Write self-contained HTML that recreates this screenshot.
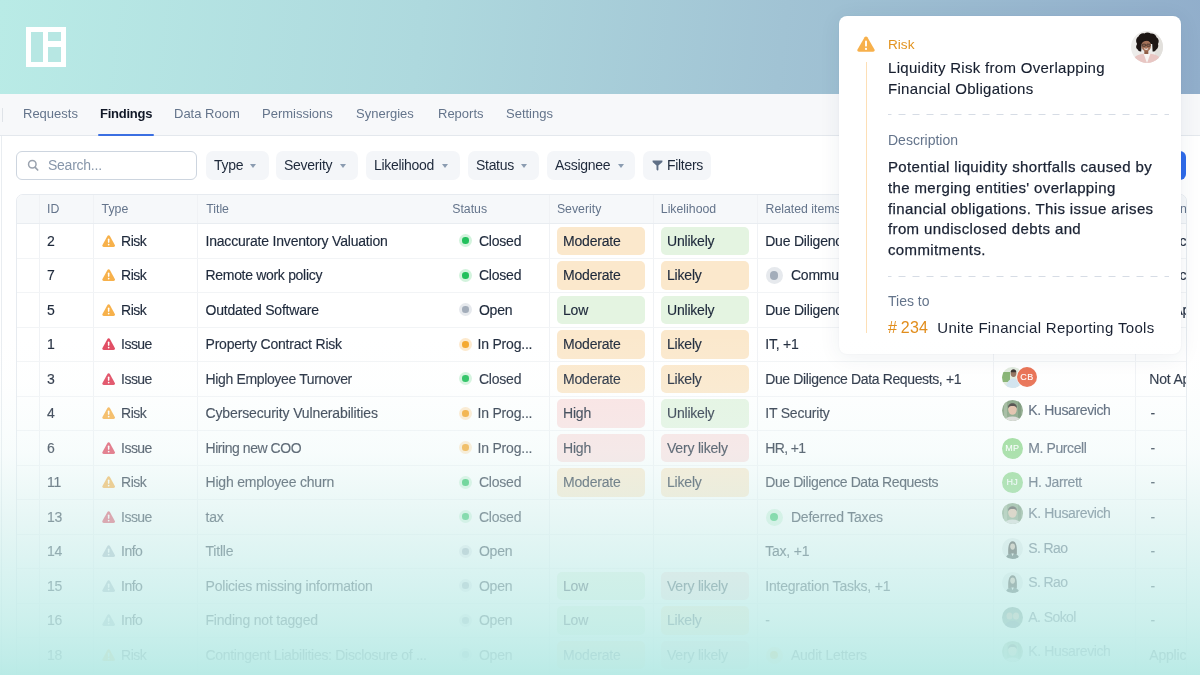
<!DOCTYPE html>
<html><head><meta charset="utf-8"><title>Findings</title>
<style>
*{box-sizing:border-box;margin:0;padding:0}
html,body{width:1200px;height:675px;overflow:hidden;background:#fff}
body{position:relative;font-family:"Liberation Sans",Arial,sans-serif;color:#1e293b;-webkit-font-smoothing:antialiased}
.abs{position:absolute}
#hdr{position:absolute;left:0;top:0;width:1200px;height:94px;background:linear-gradient(97deg,#b9ebe6 0%,#aed9de 35%,#a1c3d4 65%,#91aecb 100%)}
#logo{position:absolute;left:26px;top:27px;width:40px;height:40px;background:#fff}
#logo i{position:absolute;display:block;background:#b7e7e3}
#nav{position:absolute;left:0;top:94px;width:1200px;height:42px;background:#f7f8fa;border-bottom:1px solid #e4e8ed}
#nav .sep{position:absolute;left:2px;top:14px;width:1px;height:14px;background:#dfe3e8}
.tab{position:absolute;top:0;height:41px;line-height:40px;font-size:13px;color:#64748b;white-space:nowrap}
.tab.on{color:#111827;font-weight:700;letter-spacing:-.25px}
.tab.on:after{content:"";position:absolute;left:-2px;right:-2px;bottom:-1px;height:2px;background:#3b6fe2;border-radius:1px}
#main{position:absolute;left:0;top:136px;width:1200px;height:539px;background:#fff}
#main .lb{position:absolute;left:1px;top:0;width:1px;height:539px;background:#e9edf1}
#search{position:absolute;left:16px;top:151px;width:181px;height:29px;border:1px solid #cdd5df;border-radius:6px;background:#fff}
#search span{position:absolute;left:31px;top:0;line-height:26.5px;font-size:14px;letter-spacing:-.25px;color:#8796aa}
.fb{position:absolute;top:151px;height:29px;border-radius:7px;background:#f4f6f9;font-size:14px;letter-spacing:-.3px;line-height:28px;color:#1e293b;padding-left:8px;white-space:nowrap}
.fb .car{position:absolute;top:13px;width:0;height:0;border-left:3.5px solid transparent;border-right:3.5px solid transparent;border-top:4px solid #8b9cb1}
#blue{position:absolute;left:1080px;top:151px;width:106px;height:29px;border-radius:6px;background:#2f6bea}
#tbl{position:absolute;left:16px;top:194px;width:1170.5px;height:500px;border:1px solid #e7ebf0;border-radius:7px 7px 0 0;overflow:hidden;background:#fff}
.th{position:absolute;top:0;height:28px;line-height:28px;font-size:12.3px;color:#64748b;white-space:nowrap}
.vd{position:absolute;width:1px;background:#f0f2f5}
.hd{position:absolute;left:0;width:1170px;height:1px;background:#f2f4f6}
.c{position:absolute;height:34.5px;line-height:34.5px;font-size:14px;letter-spacing:-.2px;-webkit-text-stroke-width:.15px;white-space:nowrap;color:#1e293b}
.tri{position:absolute;left:8.6px;top:11.1px}
.bd{position:absolute;height:28.3px;line-height:28.3px;width:88px;border-radius:5px;padding-left:6px;font-size:14px;letter-spacing:-.2px;-webkit-text-stroke-width:.15px}
.pe{background:#fbe8cc}.gr{background:#e4f4e1}.pk{background:#fbe2e2}
.dot{position:absolute;width:13px;height:13px;border-radius:50%}
.dot:after{content:"";position:absolute;left:50%;top:50%;width:6.6px;height:6.6px;margin:-3.3px 0 0 -3.3px;border-radius:50%}
.dot.big:after{width:8.4px;height:8.4px;margin:-4.2px 0 0 -4.2px}
.sg{background:#d3f3dd}.sg:after{background:#22c05c}
.sy{background:#e6e9ed}.sy:after{background:#a3adba}
.so{background:#fde9cc}.so:after{background:#f4a62a}
.av{position:absolute}
.ini{position:absolute;width:21px;height:21px;border-radius:50%;color:#fff;font-size:9px;text-align:center;line-height:21px;letter-spacing:.3px;-webkit-text-stroke:.1px #fff}
#fade{position:absolute;left:0;top:339px;width:1200px;height:336px;background:linear-gradient(180deg,rgba(250,253,253,.025) 0px,rgba(245,251,250,.10) 43px,rgba(232,247,246,.33) 113px,rgba(213,240,238,.57) 179px,rgba(200,238,235,.76) 248px,rgba(195,237,233,.85) 283px,rgba(188,235,231,.935) 318px,rgba(183,234,229,.965) 336px)}
#card{position:absolute;left:839px;top:16px;width:342px;height:338px;background:#fff;border-radius:8px;box-shadow:0 3px 22px rgba(30,50,80,.07),0 0 2px rgba(30,50,80,.05)}
#card .t{position:absolute;left:49px;white-space:nowrap}
.dash{position:absolute;left:49px;width:281px;height:1px;background:repeating-linear-gradient(90deg,#d6dce5 0,#d6dce5 7.5px,transparent 7.5px,transparent 14px);background-position:-3.5px 0}
</style></head><body>
<div id="hdr"><div id="logo"><i style="left:5px;top:5px;width:12px;height:30px"></i><i style="left:22px;top:5px;width:12.8px;height:9.3px"></i><i style="left:22px;top:19.6px;width:12.8px;height:15.4px"></i></div></div>
<div id="nav"><div class="sep"></div>
<div class="tab" style="left:23px">Requests</div>
<div class="tab on" style="left:100px">Findings</div>
<div class="tab" style="left:174px">Data Room</div>
<div class="tab" style="left:262px">Permissions</div>
<div class="tab" style="left:356px">Synergies</div>
<div class="tab" style="left:438px">Reports</div>
<div class="tab" style="left:506px">Settings</div>
</div>
<div id="main"><div class="lb"></div></div>
<div id="search"><svg class="abs" style="left:10px;top:6.5px" width="13" height="13" viewBox="0 0 13 13"><circle cx="5.3" cy="5.3" r="3.75" fill="none" stroke="#9aa2ae" stroke-width="1.5"/><path d="M8.2 8.3l2.5 2.7" stroke="#9aa2ae" stroke-width="1.7" stroke-linecap="round"/></svg><span>Search...</span></div>

<div class="fb" style="left:206px;width:62.5px">Type<i class="car" style="left:44px"></i></div>
<div class="fb" style="left:276px;width:82px">Severity<i class="car" style="left:64px"></i></div>
<div class="fb" style="left:366px;width:94px">Likelihood<i class="car" style="left:76px"></i></div>
<div class="fb" style="left:468px;width:71px">Status<i class="car" style="left:53px"></i></div>
<div class="fb" style="left:547px;width:88px">Assignee<i class="car" style="left:70.5px"></i></div>
<div class="fb" style="left:643px;width:68px;padding-left:24px"><svg class="abs" style="left:9px;top:8.8px" width="11" height="11" viewBox="0 0 11 11"><path d="M0.6 0.6h9.8v1.3L6.4 5.6v4.2c0 .6-.6.9-1.1.6l-.4-.3c-.3-.2-.4-.5-.4-.8V5.6L0.6 1.9z" fill="#5f6f86"/></svg>Filters</div>
<div id="blue"></div>
<div id="tbl">
<div class="abs" style="left:0;top:0;width:1170px;height:28px;background:#f6f8fa"></div>
<div class="th" style="left:30.0px">ID</div>
<div class="th" style="left:84.6px">Type</div>
<div class="th" style="left:189.2px">Title</div>
<div class="th" style="left:435.2px">Status</div>
<div class="th" style="left:539.9px">Severity</div>
<div class="th" style="left:643.8px">Likelihood</div>
<div class="th" style="left:748.5px">Related items</div>
<div class="th" style="left:984.6px">Assignee</div>
<div class="th" style="left:1117.1px">Mitigation</div>
<div class="vd" style="left:22.1px;top:0;height:500px"></div>
<div class="vd" style="left:76.1px;top:0;height:500px"></div>
<div class="vd" style="left:180.1px;top:0;height:500px"></div>
<div class="vd" style="left:532.1px;top:0;height:500px"></div>
<div class="vd" style="left:636.1px;top:0;height:500px"></div>
<div class="vd" style="left:740.1px;top:0;height:500px"></div>
<div class="vd" style="left:976.1px;top:0;height:500px"></div>
<div class="vd" style="left:1117.8px;top:0;height:500px"></div>
<div class="hd" style="top:28.0px;background:#e9edf1"></div>
<div class="hd" style="top:62.60px"></div>
<div class="hd" style="top:97.10px"></div>
<div class="hd" style="top:131.60px"></div>
<div class="hd" style="top:166.10px"></div>
<div class="hd" style="top:200.60px"></div>
<div class="hd" style="top:235.10px"></div>
<div class="hd" style="top:269.60px"></div>
<div class="hd" style="top:304.10px"></div>
<div class="hd" style="top:338.60px"></div>
<div class="hd" style="top:373.10px"></div>
<div class="hd" style="top:407.60px"></div>
<div class="hd" style="top:442.10px"></div>
<div class="hd" style="top:476.60px"></div>
<div class="c" style="left:30.0px;top:28.75px">2</div>
<div class="c" style="left:76.1px;top:28.75px;width:100px"><svg class="tri" width="13.3" height="12.35" viewBox="0 0 14 13"><path d="M7 0.3c.55 0 1 .3 1.3.8l5.2 9.3c.55 1-.1 2.2-1.3 2.2H1.8C.6 12.6-.05 11.4.5 10.4l5.2-9.3C6 .6 6.45.3 7 .3z" fill="#f7b14b"/><rect x="6.2" y="3.7" width="1.6" height="4.6" rx=".8" fill="#fff"/><circle cx="7" cy="10.1" r=".9" fill="#fff"/></svg><span style="position:absolute;left:28px;letter-spacing:-.55px">Risk</span></div>
<div class="c" style="left:188.5px;top:28.75px">Inaccurate Inventory Valuation</div>
<div class="c" style="left:442.2px;top:28.75px;width:90px"><i class="dot sg" style="left:0;top:10.5px"></i><span style="position:absolute;left:19.7px">Closed</span></div>
<div class="bd pe" style="left:540.0px;top:31.95px">Moderate</div>
<div class="bd gr" style="left:644.0px;top:31.95px">Unlikely</div>
<div class="c" style="left:748.2px;top:28.75px;letter-spacing:-0.2px">Due Diligence Data Requests</div>
<div class="c" style="left:1132.3px;top:28.75px">Applicable</div>
<div class="c" style="left:30.0px;top:63.25px">7</div>
<div class="c" style="left:76.1px;top:63.25px;width:100px"><svg class="tri" width="13.3" height="12.35" viewBox="0 0 14 13"><path d="M7 0.3c.55 0 1 .3 1.3.8l5.2 9.3c.55 1-.1 2.2-1.3 2.2H1.8C.6 12.6-.05 11.4.5 10.4l5.2-9.3C6 .6 6.45.3 7 .3z" fill="#f7b14b"/><rect x="6.2" y="3.7" width="1.6" height="4.6" rx=".8" fill="#fff"/><circle cx="7" cy="10.1" r=".9" fill="#fff"/></svg><span style="position:absolute;left:28px;letter-spacing:-.55px">Risk</span></div>
<div class="c" style="left:188.5px;top:63.25px;letter-spacing:-0.31px">Remote work policy</div>
<div class="c" style="left:442.2px;top:63.25px;width:90px"><i class="dot sg" style="left:0;top:10.5px"></i><span style="position:absolute;left:19.7px">Closed</span></div>
<div class="bd pe" style="left:540.0px;top:66.45px">Moderate</div>
<div class="bd pe" style="left:644.0px;top:66.45px">Likely</div>
<div class="c" style="left:748.5px;top:63.25px;width:200px"><i class="dot big sy" style="left:0;top:8.75px;width:17px;height:17px"></i><span style="position:absolute;left:25.4px">Communication Plan</span></div>
<div class="c" style="left:1132.3px;top:63.25px">Applicable</div>
<div class="c" style="left:30.0px;top:97.75px">5</div>
<div class="c" style="left:76.1px;top:97.75px;width:100px"><svg class="tri" width="13.3" height="12.35" viewBox="0 0 14 13"><path d="M7 0.3c.55 0 1 .3 1.3.8l5.2 9.3c.55 1-.1 2.2-1.3 2.2H1.8C.6 12.6-.05 11.4.5 10.4l5.2-9.3C6 .6 6.45.3 7 .3z" fill="#f7b14b"/><rect x="6.2" y="3.7" width="1.6" height="4.6" rx=".8" fill="#fff"/><circle cx="7" cy="10.1" r=".9" fill="#fff"/></svg><span style="position:absolute;left:28px;letter-spacing:-.55px">Risk</span></div>
<div class="c" style="left:188.5px;top:97.75px">Outdated Software</div>
<div class="c" style="left:442.2px;top:97.75px;width:90px"><i class="dot sy" style="left:0;top:10.5px"></i><span style="position:absolute;left:19.7px">Open</span></div>
<div class="bd gr" style="left:540.0px;top:100.95px">Low</div>
<div class="bd gr" style="left:644.0px;top:100.95px">Unlikely</div>
<div class="c" style="left:748.2px;top:97.75px;letter-spacing:-0.2px">Due Diligence Data Requests</div>
<div class="c" style="left:1132.3px;top:97.75px">Not Applicable</div>
<div class="c" style="left:30.0px;top:132.25px">1</div>
<div class="c" style="left:76.1px;top:132.25px;width:100px"><svg class="tri" width="13.3" height="12.35" viewBox="0 0 14 13"><path d="M7 0.3c.55 0 1 .3 1.3.8l5.2 9.3c.55 1-.1 2.2-1.3 2.2H1.8C.6 12.6-.05 11.4.5 10.4l5.2-9.3C6 .6 6.45.3 7 .3z" fill="#e0485f"/><rect x="6.2" y="3.7" width="1.6" height="4.6" rx=".8" fill="#fff"/><circle cx="7" cy="10.1" r=".9" fill="#fff"/></svg><span style="position:absolute;left:28px;letter-spacing:-.55px">Issue</span></div>
<div class="c" style="left:188.5px;top:132.25px">Property Contract Risk</div>
<div class="c" style="left:442.2px;top:132.25px;width:90px"><i class="dot so" style="left:0;top:10.5px"></i><span style="position:absolute;left:18.3px">In Prog...</span></div>
<div class="bd pe" style="left:540.0px;top:135.45px">Moderate</div>
<div class="bd pe" style="left:644.0px;top:135.45px">Likely</div>
<div class="c" style="left:748.2px;top:132.25px;letter-spacing:-0.2px">IT, +1</div>
<div class="c" style="left:30.0px;top:166.75px">3</div>
<div class="c" style="left:76.1px;top:166.75px;width:100px"><svg class="tri" width="13.3" height="12.35" viewBox="0 0 14 13"><path d="M7 0.3c.55 0 1 .3 1.3.8l5.2 9.3c.55 1-.1 2.2-1.3 2.2H1.8C.6 12.6-.05 11.4.5 10.4l5.2-9.3C6 .6 6.45.3 7 .3z" fill="#e0485f"/><rect x="6.2" y="3.7" width="1.6" height="4.6" rx=".8" fill="#fff"/><circle cx="7" cy="10.1" r=".9" fill="#fff"/></svg><span style="position:absolute;left:28px;letter-spacing:-.55px">Issue</span></div>
<div class="c" style="left:188.5px;top:166.75px;letter-spacing:-0.35px">High Employee Turnover</div>
<div class="c" style="left:442.2px;top:166.75px;width:90px"><i class="dot sg" style="left:0;top:10.5px"></i><span style="position:absolute;left:19.7px">Closed</span></div>
<div class="bd pe" style="left:540.0px;top:169.95px">Moderate</div>
<div class="bd pe" style="left:644.0px;top:169.95px">Likely</div>
<div class="c" style="left:748.2px;top:166.75px;letter-spacing:-0.37px">Due Diligence Data Requests, +1</div>
<div class="c" style="left:984.8px;top:164.75px;width:60px"><svg class="av" style="left:0;top:7px" width="21" height="21" viewBox="0 0 21 21"><defs><clipPath id="c1"><circle cx="10.5" cy="10.5" r="10.5"/></clipPath></defs><g clip-path="url(#c1)"><rect width="21" height="21" fill="#dfe9dc"/><rect x="0" y="5" width="8" height="10" fill="#7fae6a"/><ellipse cx="11.5" cy="6.5" rx="2.8" ry="3.4" fill="#8c6a55"/><path d="M8.6 5.2c.3-2.2 1.4-3 2.9-3s2.6.8 2.9 3z" fill="#2d2522"/><path d="M4 21c.5-6 3.5-9.5 7.5-9.5S18 15 19 21z" fill="#cfe2ee"/></g></svg><div class="ini" style="left:14.8px;top:7px;background:#e8694a;width:20.6px;height:20.6px;box-shadow:0 0 0 0.5px #fff">CB</div></div>
<div class="c" style="left:1132.3px;top:166.75px">Not Applicable</div>
<div class="c" style="left:30.0px;top:201.25px">4</div>
<div class="c" style="left:76.1px;top:201.25px;width:100px"><svg class="tri" width="13.3" height="12.35" viewBox="0 0 14 13"><path d="M7 0.3c.55 0 1 .3 1.3.8l5.2 9.3c.55 1-.1 2.2-1.3 2.2H1.8C.6 12.6-.05 11.4.5 10.4l5.2-9.3C6 .6 6.45.3 7 .3z" fill="#f7b14b"/><rect x="6.2" y="3.7" width="1.6" height="4.6" rx=".8" fill="#fff"/><circle cx="7" cy="10.1" r=".9" fill="#fff"/></svg><span style="position:absolute;left:28px;letter-spacing:-.55px">Risk</span></div>
<div class="c" style="left:188.5px;top:201.25px;letter-spacing:-0.13px">Cybersecurity Vulnerabilities</div>
<div class="c" style="left:442.2px;top:201.25px;width:90px"><i class="dot so" style="left:0;top:10.5px"></i><span style="position:absolute;left:18.3px">In Prog...</span></div>
<div class="bd pk" style="left:540.0px;top:204.45px">High</div>
<div class="bd gr" style="left:644.0px;top:204.45px">Unlikely</div>
<div class="c" style="left:748.2px;top:201.25px;letter-spacing:-0.2px">IT Security</div>
<div class="c" style="left:984.8px;top:197.85px;width:130px;color:#475569"><svg class="av" style="left:0;top:6.75px" width="21" height="21" viewBox="0 0 21 21"><defs><clipPath id="c2"><circle cx="10.5" cy="10.5" r="10.5"/></clipPath></defs><g clip-path="url(#c2)"><rect width="21" height="21" fill="#7f9c7a"/><rect x="2" y="0" width="3" height="21" fill="#98b192"/><rect x="16" y="0" width="3" height="21" fill="#6b8a68"/><ellipse cx="10.5" cy="21" rx="8" ry="4.5" fill="#d9d6d2"/><ellipse cx="10.5" cy="9.6" rx="4.3" ry="5.2" fill="#e2b9a0"/><path d="M6 8.2C6 4.6 8 3.2 10.5 3.2S15 4.6 15 8.2c-.8-1.6-2.2-2.2-4.5-2.2S6.8 6.6 6 8.2z" fill="#3b3431"/></g></svg><span style="position:absolute;left:26.5px;letter-spacing:-0.38px">K. Husarevich</span></div>
<div class="c" style="left:1133.6px;top:201.25px">-</div>
<div class="c" style="left:30.0px;top:235.75px">6</div>
<div class="c" style="left:76.1px;top:235.75px;width:100px"><svg class="tri" width="13.3" height="12.35" viewBox="0 0 14 13"><path d="M7 0.3c.55 0 1 .3 1.3.8l5.2 9.3c.55 1-.1 2.2-1.3 2.2H1.8C.6 12.6-.05 11.4.5 10.4l5.2-9.3C6 .6 6.45.3 7 .3z" fill="#e0485f"/><rect x="6.2" y="3.7" width="1.6" height="4.6" rx=".8" fill="#fff"/><circle cx="7" cy="10.1" r=".9" fill="#fff"/></svg><span style="position:absolute;left:28px;letter-spacing:-.55px">Issue</span></div>
<div class="c" style="left:188.5px;top:235.75px;letter-spacing:-0.45px">Hiring new COO</div>
<div class="c" style="left:442.2px;top:235.75px;width:90px"><i class="dot so" style="left:0;top:10.5px"></i><span style="position:absolute;left:18.3px">In Prog...</span></div>
<div class="bd pk" style="left:540.0px;top:238.95px">High</div>
<div class="bd pk" style="left:644.0px;top:238.95px">Very likely</div>
<div class="c" style="left:748.2px;top:235.75px;letter-spacing:-0.6px">HR, +1</div>
<div class="c" style="left:984.8px;top:235.75px;width:130px;color:#475569"><div class="ini" style="left:0;top:6.75px;background:#8fd68a">MP</div><span style="position:absolute;left:26.5px;letter-spacing:-.4px">M. Purcell</span></div>
<div class="c" style="left:1133.6px;top:235.75px">-</div>
<div class="c" style="left:30.0px;top:270.25px">11</div>
<div class="c" style="left:76.1px;top:270.25px;width:100px"><svg class="tri" width="13.3" height="12.35" viewBox="0 0 14 13"><path d="M7 0.3c.55 0 1 .3 1.3.8l5.2 9.3c.55 1-.1 2.2-1.3 2.2H1.8C.6 12.6-.05 11.4.5 10.4l5.2-9.3C6 .6 6.45.3 7 .3z" fill="#f7b14b"/><rect x="6.2" y="3.7" width="1.6" height="4.6" rx=".8" fill="#fff"/><circle cx="7" cy="10.1" r=".9" fill="#fff"/></svg><span style="position:absolute;left:28px;letter-spacing:-.55px">Risk</span></div>
<div class="c" style="left:188.5px;top:270.25px">High employee churn</div>
<div class="c" style="left:442.2px;top:270.25px;width:90px"><i class="dot sg" style="left:0;top:10.5px"></i><span style="position:absolute;left:19.7px">Closed</span></div>
<div class="bd pe" style="left:540.0px;top:273.45px">Moderate</div>
<div class="bd pe" style="left:644.0px;top:273.45px">Likely</div>
<div class="c" style="left:748.2px;top:270.25px;letter-spacing:-0.4px">Due Diligence Data Requests</div>
<div class="c" style="left:984.8px;top:270.25px;width:130px;color:#475569"><div class="ini" style="left:0;top:6.75px;background:#8fd68a">HJ</div><span style="position:absolute;left:26.5px;letter-spacing:-.4px">H. Jarrett</span></div>
<div class="c" style="left:1133.6px;top:270.25px">-</div>
<div class="c" style="left:30.0px;top:304.75px">13</div>
<div class="c" style="left:76.1px;top:304.75px;width:100px"><svg class="tri" width="13.3" height="12.35" viewBox="0 0 14 13"><path d="M7 0.3c.55 0 1 .3 1.3.8l5.2 9.3c.55 1-.1 2.2-1.3 2.2H1.8C.6 12.6-.05 11.4.5 10.4l5.2-9.3C6 .6 6.45.3 7 .3z" fill="#e0485f"/><rect x="6.2" y="3.7" width="1.6" height="4.6" rx=".8" fill="#fff"/><circle cx="7" cy="10.1" r=".9" fill="#fff"/></svg><span style="position:absolute;left:28px;letter-spacing:-.55px">Issue</span></div>
<div class="c" style="left:188.5px;top:304.75px">tax</div>
<div class="c" style="left:442.2px;top:304.75px;width:90px"><i class="dot sg" style="left:0;top:10.5px"></i><span style="position:absolute;left:19.7px">Closed</span></div>
<div class="c" style="left:748.5px;top:304.75px;width:200px"><i class="dot big sg" style="left:0;top:8.75px;width:17px;height:17px"></i><span style="position:absolute;left:25.4px">Deferred Taxes</span></div>
<div class="c" style="left:984.8px;top:301.35px;width:130px;color:#475569"><svg class="av" style="left:0;top:6.75px" width="21" height="21" viewBox="0 0 21 21"><defs><clipPath id="c3"><circle cx="10.5" cy="10.5" r="10.5"/></clipPath></defs><g clip-path="url(#c3)"><rect width="21" height="21" fill="#7f9c7a"/><rect x="2" y="0" width="3" height="21" fill="#98b192"/><rect x="16" y="0" width="3" height="21" fill="#6b8a68"/><ellipse cx="10.5" cy="21" rx="8" ry="4.5" fill="#d9d6d2"/><ellipse cx="10.5" cy="9.6" rx="4.3" ry="5.2" fill="#e2b9a0"/><path d="M6 8.2C6 4.6 8 3.2 10.5 3.2S15 4.6 15 8.2c-.8-1.6-2.2-2.2-4.5-2.2S6.8 6.6 6 8.2z" fill="#3b3431"/></g></svg><span style="position:absolute;left:26.5px;letter-spacing:-0.38px">K. Husarevich</span></div>
<div class="c" style="left:1133.6px;top:304.75px">-</div>
<div class="c" style="left:30.0px;top:339.25px">14</div>
<div class="c" style="left:76.1px;top:339.25px;width:100px"><svg class="tri" width="13.3" height="12.35" viewBox="0 0 14 13"><path d="M7 0.3c.55 0 1 .3 1.3.8l5.2 9.3c.55 1-.1 2.2-1.3 2.2H1.8C.6 12.6-.05 11.4.5 10.4l5.2-9.3C6 .6 6.45.3 7 .3z" fill="#a9b6c2"/><rect x="6.2" y="3.7" width="1.6" height="4.6" rx=".8" fill="#fff"/><circle cx="7" cy="10.1" r=".9" fill="#fff"/></svg><span style="position:absolute;left:28px;letter-spacing:-.55px">Info</span></div>
<div class="c" style="left:188.5px;top:339.25px">Titlle</div>
<div class="c" style="left:442.2px;top:339.25px;width:90px"><i class="dot sy" style="left:0;top:10.5px"></i><span style="position:absolute;left:19.7px">Open</span></div>
<div class="c" style="left:748.2px;top:339.25px;letter-spacing:-0.2px">Tax, +1</div>
<div class="c" style="left:984.8px;top:335.85px;width:130px;color:#475569"><svg class="av" style="left:0;top:6.75px" width="21" height="21" viewBox="0 0 21 21"><defs><clipPath id="c4"><circle cx="10.5" cy="10.5" r="10.5"/></clipPath></defs><g clip-path="url(#c4)"><rect width="21" height="21" fill="#e6eaea"/><path d="M6.3 16.5C5.8 10 6.6 3.2 10.6 3.2s4.6 6.5 4.2 13.3z" fill="#2e2522"/><ellipse cx="10.6" cy="8.6" rx="2.4" ry="3.1" fill="#cfae9c"/><path d="M3.5 21c.6-3.6 3.2-5.4 7-5.4s6.4 1.8 7 5.4z" fill="#34403f"/><path d="M9.4 15.6h2.4l-1.2 2.6z" fill="#e9e4e0"/></g></svg><span style="position:absolute;left:26.5px;letter-spacing:-0.6px">S. Rao</span></div>
<div class="c" style="left:1133.6px;top:339.25px">-</div>
<div class="c" style="left:30.0px;top:373.75px">15</div>
<div class="c" style="left:76.1px;top:373.75px;width:100px"><svg class="tri" width="13.3" height="12.35" viewBox="0 0 14 13"><path d="M7 0.3c.55 0 1 .3 1.3.8l5.2 9.3c.55 1-.1 2.2-1.3 2.2H1.8C.6 12.6-.05 11.4.5 10.4l5.2-9.3C6 .6 6.45.3 7 .3z" fill="#a9b6c2"/><rect x="6.2" y="3.7" width="1.6" height="4.6" rx=".8" fill="#fff"/><circle cx="7" cy="10.1" r=".9" fill="#fff"/></svg><span style="position:absolute;left:28px;letter-spacing:-.55px">Info</span></div>
<div class="c" style="left:188.5px;top:373.75px">Policies missing information</div>
<div class="c" style="left:442.2px;top:373.75px;width:90px"><i class="dot sy" style="left:0;top:10.5px"></i><span style="position:absolute;left:19.7px">Open</span></div>
<div class="bd gr" style="left:540.0px;top:376.95px">Low</div>
<div class="bd pk" style="left:644.0px;top:376.95px">Very likely</div>
<div class="c" style="left:748.2px;top:373.75px;letter-spacing:-0.2px">Integration Tasks, +1</div>
<div class="c" style="left:984.8px;top:370.35px;width:130px;color:#475569"><svg class="av" style="left:0;top:6.75px" width="21" height="21" viewBox="0 0 21 21"><defs><clipPath id="c5"><circle cx="10.5" cy="10.5" r="10.5"/></clipPath></defs><g clip-path="url(#c5)"><rect width="21" height="21" fill="#e6eaea"/><path d="M6.3 16.5C5.8 10 6.6 3.2 10.6 3.2s4.6 6.5 4.2 13.3z" fill="#2e2522"/><ellipse cx="10.6" cy="8.6" rx="2.4" ry="3.1" fill="#cfae9c"/><path d="M3.5 21c.6-3.6 3.2-5.4 7-5.4s6.4 1.8 7 5.4z" fill="#34403f"/><path d="M9.4 15.6h2.4l-1.2 2.6z" fill="#e9e4e0"/></g></svg><span style="position:absolute;left:26.5px;letter-spacing:-0.6px">S. Rao</span></div>
<div class="c" style="left:1133.6px;top:373.75px">-</div>
<div class="c" style="left:30.0px;top:408.25px">16</div>
<div class="c" style="left:76.1px;top:408.25px;width:100px"><svg class="tri" width="13.3" height="12.35" viewBox="0 0 14 13"><path d="M7 0.3c.55 0 1 .3 1.3.8l5.2 9.3c.55 1-.1 2.2-1.3 2.2H1.8C.6 12.6-.05 11.4.5 10.4l5.2-9.3C6 .6 6.45.3 7 .3z" fill="#a9b6c2"/><rect x="6.2" y="3.7" width="1.6" height="4.6" rx=".8" fill="#fff"/><circle cx="7" cy="10.1" r=".9" fill="#fff"/></svg><span style="position:absolute;left:28px;letter-spacing:-.55px">Info</span></div>
<div class="c" style="left:188.5px;top:408.25px">Finding not tagged</div>
<div class="c" style="left:442.2px;top:408.25px;width:90px"><i class="dot sy" style="left:0;top:10.5px"></i><span style="position:absolute;left:19.7px">Open</span></div>
<div class="bd gr" style="left:540.0px;top:411.45px">Low</div>
<div class="bd pe" style="left:644.0px;top:411.45px">Likely</div>
<div class="c" style="left:748.2px;top:408.25px;letter-spacing:-0.2px">-</div>
<div class="c" style="left:984.8px;top:404.85px;width:130px;color:#475569"><svg class="av" style="left:0;top:6.75px" width="21" height="21" viewBox="0 0 21 21"><defs><clipPath id="c6"><circle cx="10.5" cy="10.5" r="10.5"/></clipPath></defs><g clip-path="url(#c6)"><rect width="21" height="21" fill="#5f7d74"/><ellipse cx="7.5" cy="9" rx="3" ry="3.6" fill="#b89a88"/><ellipse cx="14" cy="9" rx="3" ry="3.6" fill="#c3a592"/><path d="M2 21c1-5 4-7 8.5-7S19 16 19.5 21z" fill="#4a6270"/></g></svg><span style="position:absolute;left:26.5px;letter-spacing:-0.58px">A. Sokol</span></div>
<div class="c" style="left:1133.6px;top:408.25px">-</div>
<div class="c" style="left:30.0px;top:442.75px">18</div>
<div class="c" style="left:76.1px;top:442.75px;width:100px"><svg class="tri" width="13.3" height="12.35" viewBox="0 0 14 13"><path d="M7 0.3c.55 0 1 .3 1.3.8l5.2 9.3c.55 1-.1 2.2-1.3 2.2H1.8C.6 12.6-.05 11.4.5 10.4l5.2-9.3C6 .6 6.45.3 7 .3z" fill="#f7b14b"/><rect x="6.2" y="3.7" width="1.6" height="4.6" rx=".8" fill="#fff"/><circle cx="7" cy="10.1" r=".9" fill="#fff"/></svg><span style="position:absolute;left:28px;letter-spacing:-.55px">Risk</span></div>
<div class="c" style="left:188.5px;top:442.75px;letter-spacing:-0.3px">Contingent Liabilities: Disclosure of ...</div>
<div class="c" style="left:442.2px;top:442.75px;width:90px"><i class="dot sy" style="left:0;top:10.5px"></i><span style="position:absolute;left:19.7px">Open</span></div>
<div class="bd pe" style="left:540.0px;top:445.95px">Moderate</div>
<div class="bd pk" style="left:644.0px;top:445.95px">Very likely</div>
<div class="c" style="left:748.5px;top:442.75px;width:200px"><i class="dot big so" style="left:0;top:8.75px;width:17px;height:17px"></i><span style="position:absolute;left:25.4px">Audit Letters</span></div>
<div class="c" style="left:984.8px;top:439.35px;width:130px;color:#475569"><svg class="av" style="left:0;top:6.75px" width="21" height="21" viewBox="0 0 21 21"><defs><clipPath id="c7"><circle cx="10.5" cy="10.5" r="10.5"/></clipPath></defs><g clip-path="url(#c7)"><rect width="21" height="21" fill="#7f9c7a"/><rect x="2" y="0" width="3" height="21" fill="#98b192"/><rect x="16" y="0" width="3" height="21" fill="#6b8a68"/><ellipse cx="10.5" cy="21" rx="8" ry="4.5" fill="#d9d6d2"/><ellipse cx="10.5" cy="9.6" rx="4.3" ry="5.2" fill="#e2b9a0"/><path d="M6 8.2C6 4.6 8 3.2 10.5 3.2S15 4.6 15 8.2c-.8-1.6-2.2-2.2-4.5-2.2S6.8 6.6 6 8.2z" fill="#3b3431"/></g></svg><span style="position:absolute;left:26.5px;letter-spacing:-0.38px">K. Husarevich</span></div>
<div class="c" style="left:1132.3px;top:442.75px">Applicable</div>
</div>
<div id="card">
<svg class="abs" style="left:18px;top:20px" width="18" height="16" viewBox="0 0 18 16"><path d="M9 0.4c.6 0 1.1.3 1.4.8l7.1 12.3c.6 1.1-.1 2.3-1.4 2.3H1.9C.6 15.8-.1 14.6.5 13.5L7.6 1.2C7.9.7 8.4.4 9 .4z" fill="#f7b04b"/><rect x="8.05" y="4.6" width="1.9" height="6" rx=".95" fill="#fff"/><circle cx="9" cy="12.9" r="1.1" fill="#fff"/></svg>
<div class="abs" style="left:27px;top:46px;width:1px;height:271px;background:#fddfb6"></div>
<div class="t" style="top:19.3px;font-size:13.6px;line-height:20px;color:#e2931f">Risk</div>
<div class="t" style="top:41px;font-size:15px;line-height:21px;color:#161e2e;letter-spacing:.3px;-webkit-text-stroke:.12px #161e2e">Liquidity Risk from Overlapping<br>Financial Obligations</div>
<div class="dash" style="top:98px"></div>
<div class="t" style="top:114px;font-size:14px;line-height:20px;color:#64748b">Description</div>
<div class="t" style="top:141px;font-size:15px;line-height:20.8px;color:#1a2233;letter-spacing:.37px;-webkit-text-stroke:.25px #1a2233">Potential liquidity shortfalls caused by<br>the merging entities' overlapping<br>financial obligations. This issue arises<br>from undisclosed debts and<br>commitments.</div>
<div class="dash" style="top:260px"></div>
<div class="t" style="top:275px;font-size:14px;line-height:20px;color:#64748b">Ties to</div>
<div class="t" style="top:301px;font-size:15px;line-height:21px;color:#1a2233;letter-spacing:.32px"><span style="color:#e18d1c;font-size:16px;letter-spacing:.3px">#&#8201;234</span>&nbsp; Unite Financial Reporting Tools</div>
<svg class="abs" style="left:292.4px;top:15.4px" width="32" height="32" viewBox="0 0 32 32"><defs><clipPath id="cw"><circle cx="16" cy="16" r="16"/></clipPath></defs><g clip-path="url(#cw)"><rect width="32" height="32" fill="#edecea"/><rect x="24" y="0" width="8" height="32" fill="#e2e0dc"/><path d="M1 32c1-6 5-9.5 15-9.5s14 3.5 15 9.5z" fill="#e8c6c3"/><path d="M12.5 22.5l3.5 9.5 3.5-9.5z" fill="#f8f5f3"/><rect x="13.3" y="18" width="4" height="5" fill="#8f5e46"/><path d="M6.2 13c-1.8-2.5-1.2-6.3 1.3-7.6C8.3 3 11 1.6 13.4 2.4c1.8-1.3 4.6-1.2 6.3.1 2.6-.4 5.3 1.3 5.8 3.8 2.3 1.3 2.9 4.4 1.5 6.6.8 2.2-.1 4.8-2 5.9-.6 1.5-2.2 2.1-3.4 1.6l-.4-7.4H10.8l-.6 7.4c-1.5.3-3-.5-3.5-1.9-1.6-.9-2.2-3.3-.5-5.5z" fill="#1c1513"/><ellipse cx="15.2" cy="14.8" rx="4.8" ry="5.6" fill="#a5735a"/><path d="M10.6 12.2c1.6-2.4 6.4-3.6 9.4-.8-.6-3.3-2.6-4.7-4.8-4.7s-4.4 1.6-4.6 5.5z" fill="#1c1513"/><rect x="11.2" y="13.2" width="3.4" height="2" rx=".6" fill="none" stroke="#2a2220" stroke-width=".7"/><rect x="15.8" y="13.2" width="3.4" height="2" rx=".6" fill="none" stroke="#2a2220" stroke-width=".7"/><path d="M13.3 17.6q1.9 1.3 3.8 0" stroke="#fff" stroke-width="1.1" fill="none"/></g></svg>
</div>
<div id="fade"></div>
</body></html>
